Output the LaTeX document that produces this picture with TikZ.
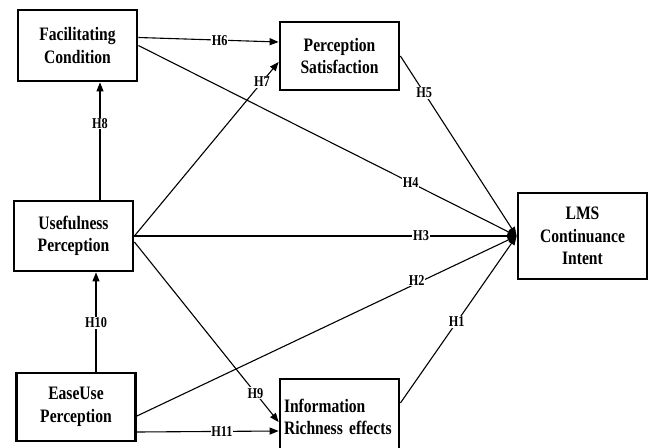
\documentclass[tikz,border=0pt]{standalone}
\usepackage{fontspec}
\setmainfont{Liberation Serif}[FakeStretch=0.82]
\usetikzlibrary{arrows.meta,calc}
\begin{document}
\begin{tikzpicture}[x=1pt,y=-1pt,
  box/.style={draw, line width=2.8pt, minimum width=119pt, minimum height=70pt, align=center,
    font=\fontsize{19}{22.5}\selectfont\bfseries, inner sep=2pt},
  link/.style={line width=1.1pt, -{Triangle[length=9pt,width=7pt]}},
  lab/.style={fill=white, inner sep=0.8pt, font=\fontsize{15}{15}\selectfont\bfseries}]
\clip (0,0) rectangle (652,447);
\node[box, minimum height=71pt] (fc) at (77.5,45.5) {Facilitating\\Condition};
\node[box, minimum height=68pt] (ps) at (339.5,56) {Perception\\Satisfaction};
\node[box] (up) at (73.5,236) {Usefulness\\Perception};
\node[box, minimum width=129pt, minimum height=86pt] (lms) at (582.5,236) {LMS\\Continuance\\Intent};
\node[box, minimum height=68pt] (eu) at (76,407) {EaseUse\\Perception};
\node[box, minimum height=76pt, text width=111pt, align=left, inner xsep=4pt] (ir) at (339.5,417) {Information\\Richness effects};

\draw[link] ($(fc.east)+(0,-8)$) -- node[lab,pos=0.58]{H6} ($(ps.west)+(0,-14)$);
\draw[link] (fc.east) -- node[lab,pos=0.72]{H4} (lms.west);
\draw[link] (up.east) -- node[lab,pos=0.885]{H7} ($(ps.west)+(0,6)$);
\draw[link] (up.east) -- node[lab,pos=0.75]{H3} (lms.west);
\draw[link] ($(up.east)+(0,6)$) -- node[lab,pos=0.84]{H9} ($(ir.west)+(0,5)$);
\coordinate (h8s) at ($(up.north)+(26.5,0)$);
\draw[link] (h8s) -- node[lab,pos=0.65]{H8} (h8s |- fc.south);
\coordinate (h10s) at ($(eu.north)+(20,0)$);
\draw[link] (h10s) -- node[lab,pos=0.49]{H10} (h10s |- up.south);
\draw[link] ($(eu.east)+(0,9)$) -- node[lab,pos=0.737,yshift=3pt]{H2} (lms.west);
\draw[link] ($(eu.east)+(0,25)$) -- node[lab,pos=0.6]{H11} ($(ir.west)+(0,14)$);
\draw[link] ($(ir.east)+(0,-14)$) -- node[lab,pos=0.485]{H1} (lms.west);
\draw[link] (ps.east) -- node[lab,pos=0.205]{H5} (lms.west);
\end{tikzpicture}
\end{document}
